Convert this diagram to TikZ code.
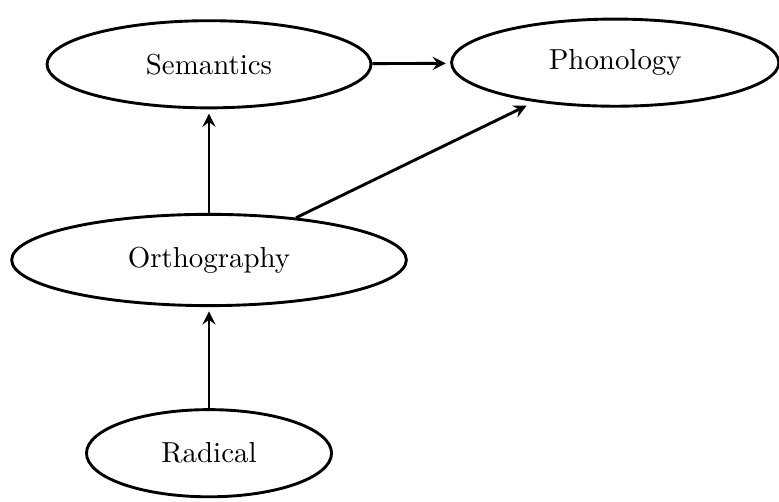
\documentclass[tikz,border=0pt]{standalone}
\usepackage{tikz}
\usetikzlibrary{shapes.geometric, positioning, arrows}
\tikzset{
    node distance=2.37cm, % vertical spacing between the levels
    concept/.style={ % Sets the properties for each ellipse
        ellipse,
        draw,
        line width=1pt,
        minimum height=1.06cm
    },
    every edge/.style={ % Sets the properties for each link
        draw,
        ->,>=stealth,
        line width=1pt,
        shorten >=1.5pt
    },
}

\begin{document}
\begin{tikzpicture}
            \useasboundingbox (-2.542,-2.943) rectangle (6.932,3.162);
            \node[concept, minimum width=4.80cm, minimum height=1.11cm]                 (ortho) {Orthography};
            \node[concept, minimum width=3.94cm, above of=ortho, node distance=2.38cm]  (sem)   {Semantics};
            \node[concept, minimum width=3.98cm, right of=sem, node distance=4.94cm,
                  yshift=0.02cm]                                                         (phon)  {Phonology};
            \node[concept, minimum width=2.98cm, below of=ortho, node distance=2.35cm]  (rad)   {Radical};
            \draw   (sem)   edge                        (phon)
                    (ortho) edge                        (sem)
                    (rad)   edge                        (ortho)
                    (ortho) edge[shorten >=3pt]         (phon)
            ;
        \end{tikzpicture}
\end{document}
